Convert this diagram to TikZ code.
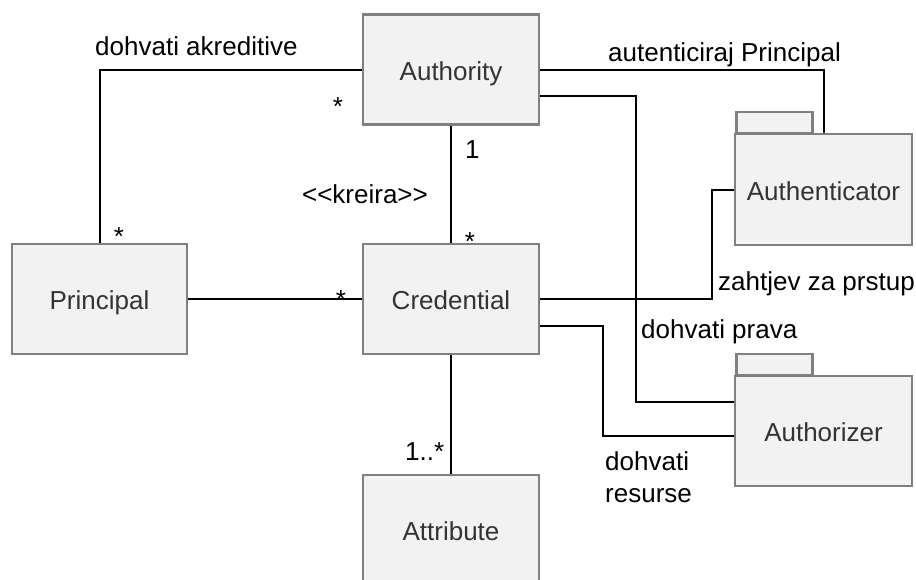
\documentclass[tikz,border=0pt]{standalone}
\usepackage{fontspec}
\setmainfont{Liberation Sans}
\usetikzlibrary{calc}
\definecolor{boxfill}{HTML}{F2F2F2}
\definecolor{boxline}{HTML}{808080}
\definecolor{boxtext}{HTML}{333333}
\begin{document}
\begin{tikzpicture}[x=1pt,y=-1pt,
  every node/.style={font=\fontsize{26}{31}\selectfont},
  cls/.style={draw=boxline, line width=2.5pt, fill=boxfill, text=boxtext,
    minimum width=176pt, minimum height=110pt, inner sep=0pt,
    text height=23pt, text depth=2pt},
  tabbox/.style={draw=boxline, line width=2.5pt, fill=boxfill, inner sep=0pt,
    minimum width=76pt, minimum height=21pt, anchor=south west},
  conn/.style={line width=2pt, black},
  lbl/.style={anchor=base west, inner sep=0pt, text=black},
  mult/.style={anchor=base, inner sep=0pt, text=black}]
\path[use as bounding box] (0,0) rectangle (916,579);
\fill[white] (0,0) rectangle (916,579);

% classes
\node[cls] (authority) at (451,69.5) {Authority};
\node[cls, minimum width=175pt] (principal) at (99.5,299) {Principal};
\node[cls] (credential) at (451,299) {Credential};
\node[cls] (attribute) at (451,530) {Attribute};

% packages
\node[tabbox] (authtab) at (735,134) {};
\node[cls, minimum width=177pt, minimum height=111pt] (authenticator) at (823.5,189.5) {Authenticator};
\node[tabbox] (authztab) at (735,376) {};
\node[cls, minimum width=177pt] (authorizer) at (823.5,431) {Authorizer};

% connectors
\draw[conn] (authority.west) -| (principal.north);
\draw[conn] (authority.east) -| (authenticator.north);
\draw[conn] ($(authority.east)+(0,26)$) -| ($(authorizer.west)+(-98,-29)$) -- ($(authorizer.west)+(0,-29)$);
\draw[conn] (credential.east) -| ($(authenticator.west)+(-22,0)$) -- (authenticator.west);
\draw[conn] ($(credential.east)+(0,27)$) -| ($(authorizer.west)+(-131,5)$) -- ($(authorizer.west)+(0,5)$);
\draw[conn] (principal.east) -- (credential.west);
\draw[conn] (authority.south) -- (credential.north);
\draw[conn] (credential.south) -- (attribute.north);

% labels
\node[lbl] (lakred) at (95,55) {dohvati akreditive};
\node[mult] (m1) at (338,115) {*};
\node[mult] (m2) at (119,245) {*};
\node[lbl] (m3) at (465,158) {1};
\node[mult] (lkreira) at (365,203) {<\kern0pt<kreira>\kern0pt>};
\node[mult] (m4) at (470,250) {*};
\node[mult] (m5) at (341,308) {*};
\node[lbl] (m6) at (405,460) {1..*};
\node[lbl] (lauten) at (608,61) {autenticiraj Principal};
\node[lbl] (lzahtjev) at (718,290) {zahtjev za prstup};
\node[lbl] (lprava) at (641,338) {dohvati prava};
\node[lbl] (lres1) at (605,470) {dohvati};
\node[lbl] (lres2) at (605,502) {resurse};
\end{tikzpicture}
\end{document}
